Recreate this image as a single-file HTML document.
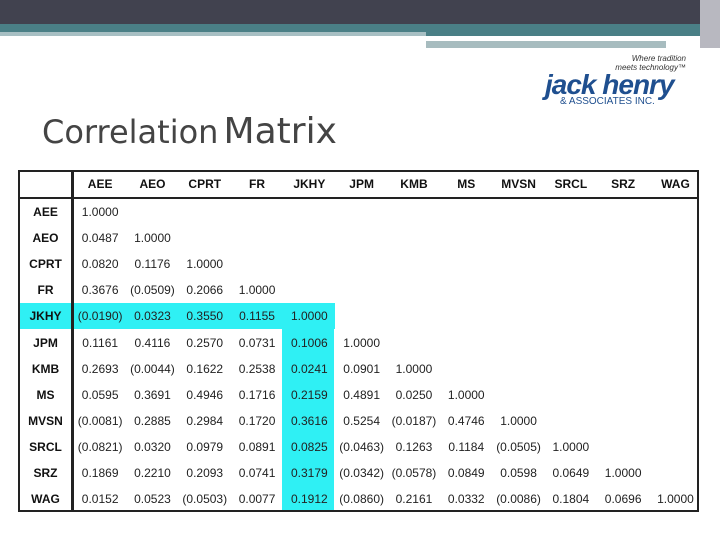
<!DOCTYPE html>
<html><head><meta charset="utf-8"><style>
body{margin:0;width:720px;height:540px;position:relative;background:#fff;overflow:hidden;font-family:"Liberation Sans",Arial,sans-serif}
.a{position:absolute}
.c{position:absolute;text-align:center;font-size:12px;color:#222;line-height:26px;white-space:nowrap}
.h{font-weight:bold;color:#111}
</style></head><body>
<div class="a" style="left:0;top:0;width:720px;height:24px;background:#41424f"></div>
<div class="a" style="left:0;top:24px;width:700px;height:12px;background:#4a7f86"></div>
<div class="a" style="left:0;top:32px;width:426px;height:4px;background:#a7bfc3"></div>
<div class="a" style="left:426px;top:41px;width:240px;height:7px;background:#a7bcbf"></div>
<div class="a" style="left:426px;top:36px;width:240px;height:3px;background:#fff"></div>
<div class="a" style="left:700px;top:0;width:20px;height:48px;background:#b8b8c0"></div>
<div class="a" style="right:34px;top:54px;font-size:8px;font-style:italic;color:#333;line-height:9px;text-align:right">Where tradition<br>meets technology™</div>
<div class="a" style="left:545px;top:70px;font-size:28px;line-height:30px;font-weight:bold;font-style:italic;color:#1f4f8f;letter-spacing:-1px">jack henry</div>
<div class="a" style="left:560px;top:96px;font-size:10px;line-height:11px;color:#1f4f8f">&amp; ASSOCIATES INC.</div>
<div class="a" style="left:42px;top:110px;line-height:44px;color:#444;font-family:'DejaVu Sans',sans-serif;white-space:nowrap"><span style="font-size:32px">Correlation</span> <span style="font-size:36px">Matrix</span></div>
<div id="tbl" class="a" style="left:18px;top:170px;width:681px;height:342px;border:2px solid #222;box-sizing:border-box"></div>
<script>
const tickers=["AEE","AEO","CPRT","FR","JKHY","JPM","KMB","MS","MVSN","SRCL","SRZ","WAG"];
const r1=["1.0000"];
const r2=["0.0487","1.0000"];
const r3=["0.0820","0.1176","1.0000"];
const r4=["0.3676","(0.0509)","0.2066","1.0000"];
const r5=["(0.0190)","0.0323","0.3550","0.1155","1.0000"];
const r6=["0.1161","0.4116","0.2570","0.0731","0.1006","1.0000"];
const r7=["0.2693","(0.0044)","0.1622","0.2538","0.0241","0.0901","1.0000"];
const r8=["0.0595","0.3691","0.4946","0.1716","0.2159","0.4891","0.0250","1.0000"];
const r9=["(0.0081)","0.2885","0.2984","0.1720","0.3616","0.5254","(0.0187)","0.4746","1.0000"];
const r10=["(0.0821)","0.0320","0.0979","0.0891","0.0825","(0.0463)","0.1263","0.1184","(0.0505)","1.0000"];
const r11=["0.1869","0.2210","0.2093","0.0741","0.3179","(0.0342)","(0.0578)","0.0849","0.0598","0.0649","1.0000"];
const r12=["0.0152","0.0523","(0.0503)","0.0077","0.1912","(0.0860)","0.2161","0.0332","(0.0086)","0.1804","0.0696","1.0000"];
const rows=[r1,r2,r3,r4,r5,r6,r7,r8,r9,r10,r11,r12];
const t=document.getElementById('tbl');
const X0=54,CW=52.3,Y0=27,RH=26.1;
const hi=tickers.indexOf("JKHY");
function add(html,cls,l,tp,w,h,bg){const d=document.createElement('div');d.className=cls;d.style.left=l+'px';d.style.top=tp+'px';d.style.width=w+'px';d.style.height=h+'px';d.style.lineHeight=h+'px';if(bg)d.style.background=bg;d.innerHTML=html;t.appendChild(d);return d;}
let b=add('','a',0,Y0+hi*RH,X0+(hi+1)*CW-1,RH,'#2ff0f4');


b=add('','a',X0+hi*CW-1,Y0+hi*RH,CW,338-(Y0+hi*RH),'#2ff0f4');


b=add('','a',0,Y0-2,677,2,'#222');


b=add('','a',X0-3,0,3,338,'#222');


tickers.forEach((k,j)=>{
 let d=add(k,'c h',X0+j*CW,0,CW,Y0-2);
 
 
 d=add(k,'c h',0,Y0+j*RH,X0-3,RH);
 
 
 rows[j].forEach((v,i)=>{
  const e=add(v,'c',X0+i*CW,Y0+j*RH,CW,RH);
  
  
 });
});
</script>
</body></html>
